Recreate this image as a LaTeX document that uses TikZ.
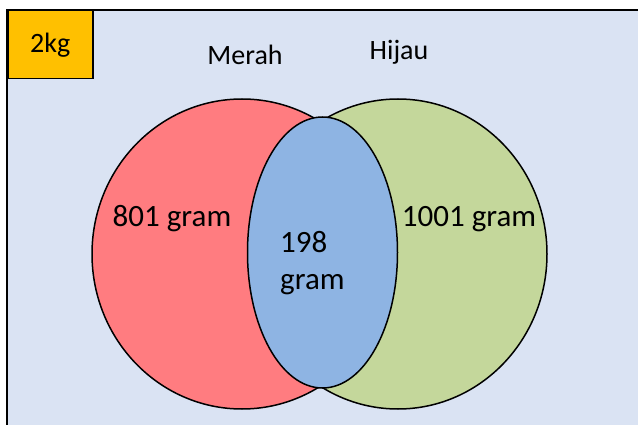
\documentclass[tikz,border=0pt]{standalone}
\usepackage{fontspec}
\setmainfont{Carlito}
\usetikzlibrary{shapes.geometric}
\definecolor{bgblue}{HTML}{DAE3F3}
\definecolor{boxorange}{HTML}{FFC000}
\definecolor{setred}{HTML}{FF7C80}
\definecolor{setgreen}{HTML}{C4D79B}
\definecolor{setblue}{HTML}{8EB4E3}
\tikzset{
  setshape/.style={ellipse, draw=black, line width=1.5pt, inner sep=0pt},
  bigtext/.style={font=\fontsize{31}{36}\selectfont, inner sep=0pt},
  smalltext/.style={font=\fontsize{28}{32}\selectfont, inner sep=0pt}
}
\begin{document}
\begin{tikzpicture}[x=1pt,y=-1pt]
\useasboundingbox (0,0) rectangle (638,425);
\fill[bgblue] (7,10) rectangle (645,432);
\draw[line width=2pt] (7,440) -- (7,10) -- (645,10);
\node[draw=black, line width=1.5pt, fill=boxorange, minimum width=85pt, minimum height=68pt, inner sep=0pt, anchor=north west] (kg) at (7,10) {};
\node[smalltext] (kgt) at (kg.center) {2kg};
\node[setshape, fill=setred, minimum width=300pt, minimum height=310pt] (red) at (242,254) {};
\node[setshape, fill=setgreen, minimum width=298pt, minimum height=310pt] (green) at (398,254) {};
\node[setshape, fill=setblue, minimum width=150pt, minimum height=271pt] (blue) at (322.5,252.5) {};
\node[smalltext, anchor=base] (merah) at (245,65) {Merah};
\node[smalltext, anchor=base] (hijau) at (399,60) {Hijau};
\node[bigtext, anchor=base] (r) at (172,227) {801 gram};
\node[bigtext, anchor=base] (g) at (469,226) {1001 gram};
\node[bigtext, anchor=base west] (b1) at (280,252) {198};
\node[bigtext, anchor=base west] (b2) at (280,289) {gram};
\end{tikzpicture}
\end{document}
